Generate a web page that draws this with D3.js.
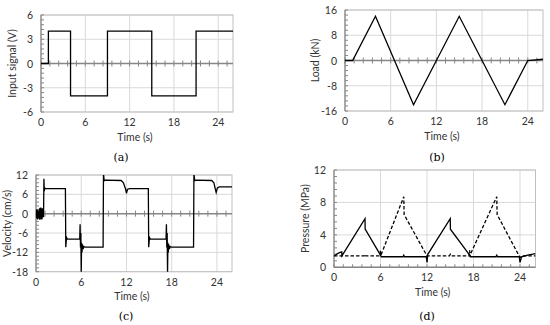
<!DOCTYPE html>
<html>
<head>
<meta charset="utf-8">
<script src="https://cdn.jsdelivr.net/npm/d3@7"></script>
<style>
  body { margin: 0; background: #fff; }
  text { font-family: Lato, "Open Sans", sans-serif; fill: #333; }
  .cap { font-family: "DejaVu Serif", serif; fill: #000; }
</style>
</head>
<body>
<div id="chart"></div>
<script>
// (a) input signal, step function
var inputT = [0, 1, 4, 9, 15, 21, 26]
var inputV = [0, 4, -4, 4, -4, 4, 4]
// (b) load
var loadT = [0, 1, 4, 9, 15, 21, 24, 26]
var loadV = [0, 0, 14, -14, 14, -14, 0, 0.4]
// (c) velocity
var velT = [0, 0.05, 0.1, 0.15, 0.2, 0.25, 0.3, 0.35, 0.4, 0.45, 0.5, 0.55, 0.6, 0.65, 0.7, 0.75, 0.8, 0.85, 0.9, 0.95,
  1.0, 1.05, 1.1, 1.15, 1.25, 3.9, 3.95, 4.05, 4.15, 5.8, 5.85, 5.9, 5.95, 6.0, 6.05, 6.1, 6.15, 6.25, 6.35, 6.5,
  8.9, 8.95, 9.05, 9.2, 11.3, 11.6, 11.9, 12.0, 12.15, 12.4, 14.9, 14.95, 15.05, 15.15, 17.25, 17.3, 17.35, 17.4,
  17.45, 17.5, 17.55, 17.6, 17.7, 17.8, 17.95, 20.9, 20.95, 21.05, 21.2, 23.3, 23.6, 23.8, 23.9, 24.05, 24.3, 26]
var velV = [0, 1.2, -1.5, 1.4, -1.8, 1.0, -1.2, 0.8, -1.6, 1.6, -1.9, 1.8, -1.4, 1.9, -1.8, 1.5, -1.7, 1.7, -1.2, 1.3,
  -1, 10.8, 7.0, 8.0, 7.8, 7.8, -10.4, -7.4, -7.9, -7.9, -3.3, -10.5, -6, -18.5, -9, -12, -9.5, -11, -10.2, -10.4,
  -10.4, 12.5, 10.2, 10.4, 10.3, 9.6, 7.5, 6.3, 7.6, 7.8, 7.8, -10.4, -7.4, -7.9, -7.9, -3.3, -10.5, -6,
  -18.5, -9, -12, -9.5, -11, -10.2, -10.4, -10.4, 12.5, 10.2, 10.4, 10.3, 9.6, 7.5, 6.6, 7.9, 8.3, 8.3]
// (d) pressure, two chambers
var presAT = [0, 0.3, 0.7, 1.0, 1.02, 4.0, 4.02, 6.0, 6.1, 8.9, 9.0, 9.1, 11.9, 12.0, 12.1, 15.0, 15.02, 17.5, 17.6,
  20.9, 21.0, 21.1, 23.9, 24.0, 24.2, 25, 26]
var presAV = [1.4, 1.6, 1.8, 1.9, 1.4, 6.0, 4.7, 1.5, 1.3, 1.3, 1.5, 1.3, 1.3, 0.6, 1.6, 6.0, 4.7, 1.5, 1.3,
  1.3, 1.5, 1.3, 1.3, 0.6, 1.3, 1.5, 1.7]
var presBT = [0, 3.9, 4.0, 4.1, 5.9, 6.0, 6.05, 6.1, 9.0, 9.05, 12.0, 14.9, 15.0, 15.1, 17.4, 17.5, 17.55, 17.6,
  21.0, 21.05, 24.0, 24.3, 26]
var presBV = [1.4, 1.4, 1.6, 1.4, 1.4, 2.1, 1.4, 1.6, 8.7, 6.5, 1.4, 1.4, 1.6, 1.4, 1.4, 2.1, 1.3, 1.6,
  8.7, 6.5, 1.2, 1.4, 1.4]

var xTicks = [0, 6, 12, 18, 24]

var width = 550, height = 325
var svg = d3.select("#chart").append("svg")
  .attr("width", width).attr("height", height)
  .style("background-color", "#fff")

function zip(t, v) { return t.map((d, i) => [d, v[i]]) }

function panel(o) {
  var x = d3.scaleLinear().domain([0, 26]).range([o.left, o.right])
  var y = d3.scaleLinear().domain(o.yDomain).range([o.bottom, o.top])
  var g = svg.append("g")
  var clipId = "clip" + o.name
  g.append("clipPath").attr("id", clipId).append("rect")
    .attr("x", o.left).attr("y", o.top)
    .attr("width", o.right - o.left).attr("height", o.bottom - o.top)

  // grid
  g.selectAll(".vg").data(xTicks.slice(1)).enter().append("line")
    .attr("x1", d => x(d)).attr("x2", d => x(d))
    .attr("y1", o.top).attr("y2", o.bottom)
    .attr("stroke", "#d9d9d9").attr("stroke-width", 1)
  g.selectAll(".hg").data(o.yTicks.filter(d => d != 0)).enter().append("line")
    .attr("x1", o.left).attr("x2", o.right)
    .attr("y1", d => y(d)).attr("y2", d => y(d))
    .attr("stroke", "#d9d9d9").attr("stroke-width", 1)
  g.append("rect")
    .attr("x", o.left).attr("y", o.top)
    .attr("width", o.right - o.left).attr("height", o.bottom - o.top)
    .attr("fill", "none").attr("stroke", "#bfbfbf")

  // left axis with inside minor ticks
  g.append("line").attr("x1", o.left).attr("x2", o.left)
    .attr("y1", o.top).attr("y2", o.bottom)
    .attr("stroke", "#868686").attr("stroke-width", 1.2)
  var yMinor = d3.range(o.yDomain[0], o.yDomain[1] + 1e-6, o.yMinor)
  g.selectAll(".ym").data(yMinor).enter().append("line")
    .attr("x1", o.left).attr("x2", o.left + 3)
    .attr("y1", d => y(d)).attr("y2", d => y(d))
    .attr("stroke", "#868686")

  // zero axis with minor ticks
  var y0 = y(0)
  g.append("line").attr("x1", o.left).attr("x2", o.right)
    .attr("y1", y0).attr("y2", y0)
    .attr("stroke", "#868686").attr("stroke-width", 1.5)
  var xMinor = d3.range(0, 26, 1.2)
  g.selectAll(".xm").data(xMinor).enter().append("line")
    .attr("x1", d => x(d)).attr("x2", d => x(d))
    .attr("y1", y0 - 3).attr("y2", y0 + (o.yDomain[0] < 0 ? 3 : 0))
    .attr("stroke", "#868686")

  // tick labels
  g.selectAll(".yl").data(o.yTicks).enter().append("text")
    .attr("x", o.left - 8).attr("y", d => y(d) + 4)
    .attr("text-anchor", "end").style("font-size", "10.5px")
    .text(d => d)
  g.selectAll(".xl").data(xTicks).enter().append("text")
    .attr("x", d => x(d)).attr("y", o.bottom + 14)
    .attr("text-anchor", "middle").style("font-size", "10.5px")
    .text(d => d)
  g.append("text").attr("x", (o.left + o.right) / 2 - 2).attr("y", o.bottom + 28.5)
    .attr("text-anchor", "middle").style("font-size", "10.5px").text("Time (s)")
  g.append("text")
    .attr("transform", "translate(" + o.titleX + "," + ((o.top + o.bottom) / 2) + ") rotate(-90)")
    .attr("text-anchor", "middle").style("font-size", "10.5px").text(o.title)
  g.append("text").attr("class", "cap")
    .attr("x", o.capX).attr("y", o.capY)
    .attr("text-anchor", "middle").style("font-size", "11px").text(o.caption)

  o.series.forEach(s => {
    var line = d3.line().x(d => x(d[0])).y(d => y(d[1]))
    if (s.step) line.curve(d3.curveStepAfter)
    g.append("path")
      .attr("d", line(s.data))
      .attr("clip-path", "url(#" + clipId + ")")
      .attr("fill", "none").attr("stroke", "#000")
      .attr("stroke-width", 1.3)
      .attr("stroke-linejoin", "miter")
      .style("stroke-dasharray", s.dash || null)
  })
}

panel({ name: "a", left: 41, right: 233, top: 15, bottom: 112,
  yDomain: [-6, 6], yTicks: [-6, -3, 0, 3, 6], yMinor: 0.6,
  title: "Input signal (V)", titleX: 16, caption: "(a)", capX: 121, capY: 161,
  series: [{ data: zip(inputT, inputV), step: true }] })

panel({ name: "b", left: 345, right: 543, top: 10, bottom: 111,
  yDomain: [-16, 16], yTicks: [-16, -8, 0, 8, 16], yMinor: 1.6,
  title: "Load (kN)", titleX: 319, caption: "(b)", capX: 437, capY: 161,
  series: [{ data: zip(loadT, loadV) }] })

panel({ name: "c", left: 36, right: 232, top: 175, bottom: 271.7,
  yDomain: [-18, 12], yTicks: [-18, -12, -6, 0, 6, 12], yMinor: 1.2,
  title: "Velocity (cm/s)", titleX: 11, caption: "(c)", capX: 126, capY: 320,
  series: [{ data: zip(velT, velV) }] })

panel({ name: "d", left: 334, right: 535.5, top: 170, bottom: 267.3,
  yDomain: [0, 12], yTicks: [0, 4, 8, 12], yMinor: 0.8,
  title: "Pressure (MPa)", titleX: 309, caption: "(d)", capX: 427, capY: 320,
  series: [{ data: zip(presAT, presAV) }, { data: zip(presBT, presBV), dash: "3.5,2" }] })
</script>
</body>
</html>
